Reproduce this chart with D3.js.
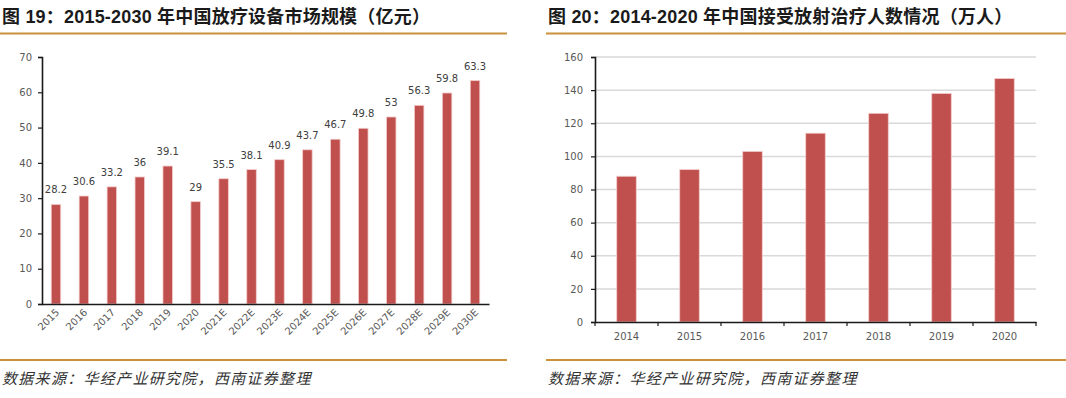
<!DOCTYPE html>
<html>
<head>
<meta charset="utf-8">
<script src="https://cdn.jsdelivr.net/npm/d3@7"></script>
<style>
  html, body { margin: 0; padding: 0; background: #fff; }
  svg { display: block; }
</style>
</head>
<body>
<div id="chart"></div>
<script>
// Twee staafdiagrammen naast elkaar: marktomvang (links) en patiënten (rechts).
const marketYears = ['2015', '2016', '2017', '2018', '2019', '2020', '2021E', '2022E',
  '2023E', '2024E', '2025E', '2026E', '2027E', '2028E', '2029E', '2030E'];
const marketValues = [28.2, 30.6, 33.2, 36, 39.1, 29, 35.5, 38.1,
  40.9, 43.7, 46.7, 49.8, 53, 56.3, 59.8, 63.3];
const marketTicks = [0, 10, 20, 30, 40, 50, 60, 70];

const patientYears = ['2014', '2015', '2016', '2017', '2018', '2019', '2020'];
const patientValues = [88, 92, 103, 114, 126, 138, 147];
const patientTicks = [0, 20, 40, 60, 80, 100, 120, 140, 160];

const titleLeft = '图 19：2015-2030 年中国放疗设备市场规模（亿元）';
const titleRight = '图 20：2014-2020 年中国接受放射治疗人数情况（万人）';
const sourceText = '数据来源：华经产业研究院，西南证券整理';

const C = {
  bar: '#c0504d',
  barEdge: '#f3cccc',
  gold: '#c9923b',
  axis: '#1a1a1a',
  grid: '#d9d9d9',
  tick: '#595959',
  label: '#404040',
  title: '#1a1a1a',
};
const NUM_FONT = '"DejaVu Sans", Verdana, sans-serif';
const TITLE_FONT = '"Liberation Sans", Arial, "Noto Sans CJK SC", sans-serif';
const SRC_FONT = '"Noto Sans CJK SC", sans-serif';

const W = 1066, H = 398;
const svg = d3.select('#chart').append('svg')
  .attr('width', W).attr('height', H)
  .attr('viewBox', `0 0 ${W} ${H}`);

function frame(x0, x1, tx, title) {
  svg.append('text')
    .attr('x', tx).attr('y', 23)
    .attr('font-family', TITLE_FONT)
    .attr('font-weight', 'bold')
    .attr('font-size', 18)
    .attr('letter-spacing', 0.2)
    .attr('fill', C.title)
    .text(title);
  [33.5, 360].forEach(y => {
    svg.append('line')
      .attr('x1', x0).attr('x2', x1)
      .attr('y1', y).attr('y2', y)
      .attr('stroke', C.gold).attr('stroke-width', 2);
  });
  svg.append('text')
    .attr('x', tx).attr('y', 384)
    .attr('font-family', SRC_FONT)
    .attr('font-style', 'italic')
    .attr('font-size', 15)
    .attr('letter-spacing', 1.3)
    .attr('fill', '#333')
    .text(sourceText);
}

frame(0, 507, 2, titleLeft);
frame(546, 1066, 548, titleRight);

// ---- Links: marktomvang ----
(function () {
  const x = d3.scaleBand().domain(marketYears).range([42, 489]);
  const y = d3.scaleLinear().domain([0, 70]).range([304, 57]);
  const bw = x.bandwidth() * 0.34;
  const g = svg.append('g');

  g.selectAll('rect.bar').data(marketValues).join('rect')
    .attr('class', 'bar')
    .attr('x', (d, i) => x(marketYears[i]) + x.bandwidth() / 2 - bw / 2)
    .attr('y', d => y(d))
    .attr('width', bw)
    .attr('height', d => y(0) - y(d))
    .attr('fill', C.bar)
    .attr('stroke', C.barEdge).attr('stroke-width', 0.8);

  g.selectAll('text.val').data(marketValues).join('text')
    .attr('class', 'val')
    .attr('x', (d, i) => x(marketYears[i]) + x.bandwidth() / 2)
    .attr('y', d => y(d) - 11)
    .attr('text-anchor', 'middle')
    .attr('font-family', NUM_FONT).attr('font-size', 10)
    .attr('fill', C.label)
    .text(d => d);

  const ya = g.append('g')
    .attr('transform', 'translate(42,0)')
    .call(d3.axisLeft(y).tickValues(marketTicks).tickSize(4).tickPadding(6));
  ya.select('.domain').attr('stroke', C.axis).attr('stroke-width', 1.6);
  ya.selectAll('.tick line').attr('stroke', C.axis).attr('stroke-width', 1.2);
  ya.selectAll('.tick text').attr('font-family', NUM_FONT).attr('font-size', 10).attr('fill', C.tick);

  const xa = g.append('g')
    .attr('transform', 'translate(0,304)')
    .call(d3.axisBottom(x).tickSize(0).tickSizeOuter(0));
  xa.select('.domain').attr('stroke', C.axis).attr('stroke-width', 1.6);
  xa.selectAll('.tick text')
    .attr('font-family', NUM_FONT).attr('font-size', 10).attr('fill', C.tick)
    .attr('text-anchor', 'end')
    .attr('dy', null).attr('y', 0)
    .attr('transform', 'translate(4,9) rotate(-45)');
})();

// ---- Rechts: patiënten ----
(function () {
  const x = d3.scaleBand().domain(patientYears).range([595, 1036]);
  const y = d3.scaleLinear().domain([0, 160]).range([322, 57]);
  const bw = x.bandwidth() * 0.31;
  const g = svg.append('g');

  g.append('g').selectAll('line').data(patientTicks.slice(1)).join('line')
    .attr('x1', 595).attr('x2', 1036)
    .attr('y1', d => y(d)).attr('y2', d => y(d))
    .attr('stroke', C.grid).attr('stroke-width', 1.5);

  g.selectAll('rect.bar').data(patientValues).join('rect')
    .attr('class', 'bar')
    .attr('x', (d, i) => x(patientYears[i]) + x.bandwidth() / 2 - bw / 2)
    .attr('y', d => y(d))
    .attr('width', bw)
    .attr('height', d => y(0) - y(d))
    .attr('fill', C.bar)
    .attr('stroke', C.barEdge).attr('stroke-width', 0.8);

  const ya = g.append('g')
    .attr('transform', 'translate(595,0)')
    .call(d3.axisLeft(y).tickValues(patientTicks).tickSize(4).tickPadding(8));
  ya.select('.domain').attr('stroke', C.axis).attr('stroke-width', 1.6);
  ya.selectAll('.tick line').attr('stroke', C.axis).attr('stroke-width', 1.2);
  ya.selectAll('.tick text').attr('font-family', NUM_FONT).attr('font-size', 10).attr('fill', C.tick);

  const xa = g.append('g')
    .attr('transform', 'translate(0,322)')
    .call(d3.axisBottom(x).tickSize(0).tickSizeOuter(0).tickPadding(11));
  xa.select('.domain').attr('stroke', C.axis).attr('stroke-width', 1.6);
  xa.selectAll('.tick text').attr('font-family', NUM_FONT).attr('font-size', 10).attr('fill', C.tick);

  // tick marks on band boundaries
  const bounds = patientYears.map(d => x(d)).concat([x.range()[1]]);
  xa.selectAll('line.sep').data(bounds).join('line')
    .attr('class', 'sep')
    .attr('x1', d => d).attr('x2', d => d)
    .attr('y1', 0).attr('y2', 4)
    .attr('stroke', C.axis).attr('stroke-width', 1.2);
})();
</script>
</body>
</html>
